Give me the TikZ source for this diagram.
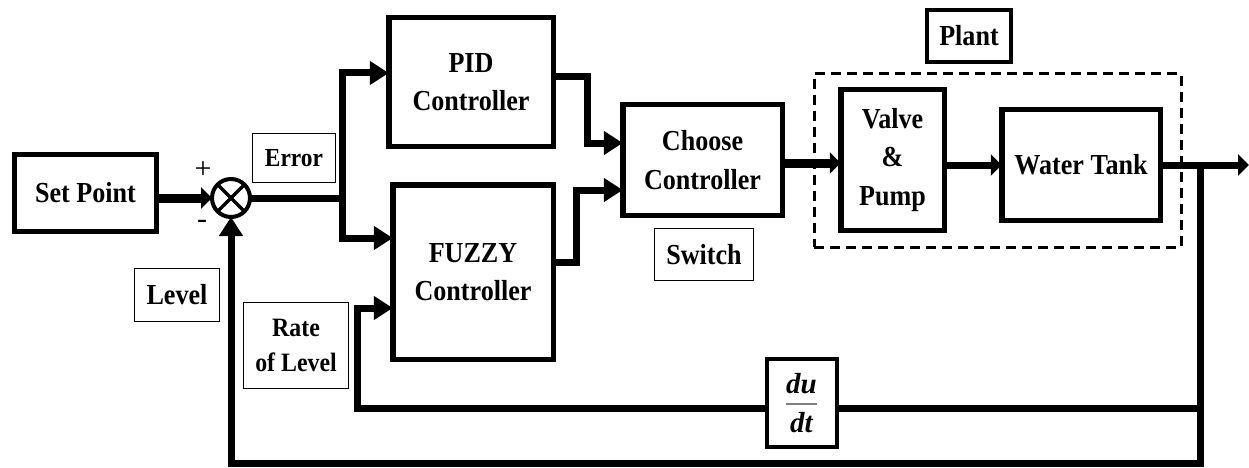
\documentclass[tikz,border=0pt]{standalone}
\usepackage{fontspec}
\usepackage{amsmath}
\setmainfont{Liberation Serif}
\newfontfamily\cfont{Liberation Serif}[FakeStretch=0.9]
\usetikzlibrary{arrows.meta,calc}
\begin{document}
\begin{tikzpicture}[x=1pt,y=-1pt,
  blk/.style={draw, line width=5.5pt, inner sep=0pt, outer sep=0pt, align=center,
    font=\cfont\bfseries\fontsize{29}{38.5}\selectfont},
  lbl/.style={draw, line width=1.3pt, inner sep=0pt, outer sep=0pt, align=center,
    font=\cfont\bfseries\fontsize{29}{35}\selectfont},
  conn/.style={line width=7pt},
  bigarrow/.tip={Triangle[length=19pt,width=23pt]},
  smallarrow/.tip={Triangle[length=11pt,width=21pt]}
]
\useasboundingbox (0,0) rectangle (1249,468);

% blocks
\node[blk, minimum width=142pt, minimum height=77pt] (setpoint) at (85.5,193) {Set Point};
\node[draw, circle, line width=4pt, minimum size=38pt, inner sep=0pt, outer sep=0pt] (sum) at (231,198) {};
\draw[line width=3.5pt] (sum.north west) -- (sum.south east) (sum.north east) -- (sum.south west);
\node[font=\fontsize{30}{30}\selectfont, inner sep=0pt] (plus) at (203,170) {+};
\node[font=\fontsize{30}{30}\selectfont, inner sep=0pt] (minus) at (202,224) {-};

\node[blk, minimum width=164.5pt, minimum height=128.5pt] (pid) at (471,82) {PID\\Controller};
\node[blk, minimum width=160.5pt, minimum height=174.5pt] (fuzzy) at (473,272) {FUZZY\\Controller};
\node[blk, minimum width=159.5pt, minimum height=110.5pt] (choose) at (702.5,160) {Choose\\Controller};
\node[blk, minimum width=103.5pt, minimum height=140.5pt] (valve) at (892.5,160) {Valve\\\&\\Pump};
\node[blk, minimum width=158.5pt, minimum height=110.5pt] (water) at (1081,165) {Water Tank};
\node[draw, dash pattern=on 10pt off 6pt, line width=3pt, minimum width=367pt, minimum height=173pt, inner sep=0pt] (plantbox) at (997.5,160.5) {};
\node[draw, line width=4pt, minimum width=84pt, minimum height=52pt, inner sep=0pt, align=center,
  font=\cfont\bfseries\fontsize{29}{30}\selectfont] (plant) at (969,36) {Plant};
\node[draw, line width=4pt, minimum width=70pt, minimum height=88pt, inner sep=0pt] (dudt) at (801.5,403)
  {\fontsize{29}{30}\selectfont\color{gray}$\displaystyle\genfrac{}{}{2.5pt}{0}{\mbox{\color{black}\bfseries\itshape du}}{\mbox{\color{black}\bfseries\itshape dt}}$};

% labels
\node[lbl, minimum width=83pt, minimum height=49pt, font=\cfont\bfseries\fontsize{26}{30}\selectfont] (error) at (294,158) {Error};
\node[lbl, minimum width=85pt, minimum height=53pt] (level) at (177,295) {Level};
\node[lbl, minimum width=105pt, minimum height=86pt, font=\cfont\bfseries\fontsize{26.5}{35}\selectfont] (rate) at (296,345.5) {Rate\\of Level};
\node[lbl, minimum width=99pt, minimum height=52pt] (switch) at (704,254.5) {Switch};

% coordinates
\coordinate (br) at (342,198);
\coordinate (out) at (1249,165);
\coordinate (fb) at (1200,165);
\coordinate (fbc) at (1200,463);
\coordinate (fbl) at (231,463);
\coordinate (fbr) at (1200,408);
\coordinate (rl) at (357,408);

% connectors
\draw[line width=9pt, -smallarrow] (setpoint.east |- sum.west) -- (sum.west);
\draw[conn] (sum.east) -- (br);
\draw[conn, -bigarrow] (br) |- ([yshift=9pt]pid.west);
\draw[conn, -bigarrow] (br) |- ([yshift=34pt]fuzzy.west);
\draw[conn, -bigarrow] ([yshift=5pt]pid.east) -- ++(34,0) |- ([yshift=17pt]choose.west);
\draw[conn, -bigarrow] ([yshift=10pt]fuzzy.east) -- ++(23,0) |- ([yshift=-30pt]choose.west);
\draw[line width=9pt, -smallarrow] ([yshift=-3pt]choose.east) -- ([yshift=-3pt]valve.west);
\draw[conn, -smallarrow] (valve.east |- water.west) -- (water.west);
\draw[conn, -smallarrow] (water.east) -- (out);
\draw[conn, -bigarrow] (fb) -- (fbc) -- (fbl) -- (sum.south);
\draw[conn] (fbr) -- (dudt.east |- fbr);
\draw[conn, -bigarrow] (dudt.west |- fbr) -- (rl) |- ([yshift=-36pt]fuzzy.west);
\end{tikzpicture}
\end{document}
